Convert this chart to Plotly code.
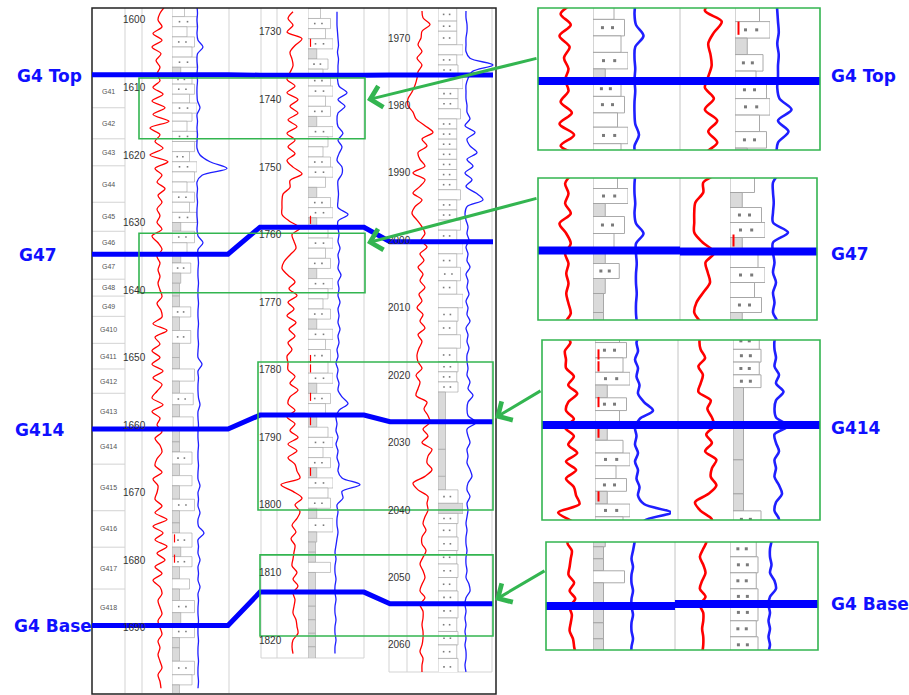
import plotly.graph_objects as go

# ============================ DATA ============================
MARKER_NAMES = ["G4 Top", "G47", "G414", "G4 Base"]

# Well 1 (depth 1598..1699 m, 1 m samples) GR in API, RT in ohm.m
W1_FIRST_DEPTH = 1598
W1_GR = [90, 80, 76, 84, 66, 84, 64, 82, 72, 80, 74, 80,
         66, 86, 64, 90, 66, 98, 60, 80, 70, 86,
         60, 96, 70, 84, 74, 90, 76, 84, 74, 80,
         74, 84, 64, 76, 84, 74, 80, 76, 80, 76,
         80, 84, 74, 82, 84, 66, 94, 70, 80, 64,
         80, 64, 86, 66, 84, 74, 64, 86, 64, 80,
         74, 84, 70, 80, 84, 74, 70, 84, 66, 76,
         74, 70, 84, 70, 94, 66, 86, 70, 94, 74,
         90, 70, 84, 66, 80, 84, 76, 80, 84, 76,
         80, 84, 76, 80, 76, 80, 84, 76, 80, 82]
W1_RT = [7, 7.5, 7, 7.5, 7, 8, 13, 7.5, 7, 7.5, 7, 7.5,
         7, 7, 7.5, 10, 7, 7.5, 7, 7.5, 7, 7,
         10, 20, 37, 12, 7, 7.5, 7, 7.5, 7, 7,
         7.5, 7, 8, 13, 8, 8, 8.5, 8, 8, 8.5,
         8, 8, 8.5, 8, 8, 8.5, 8, 8, 8.5, 8,
         8, 12, 8, 8.5, 8, 8, 8.5, 10, 8, 8,
         8.5, 8, 8, 8.5, 8, 8, 8.5, 8, 8, 10,
         8, 8.5, 8, 10, 8, 8.5, 14, 8, 8.5, 8,
         10, 8, 8.5, 8, 10, 8, 8.5, 8, 8, 8.5,
         8, 8, 8.5, 8, 8, 8.5, 8, 8, 8.5, 8]

# Well 2 (depth 1727..1822 m)
W2_FIRST_DEPTH = 1727
W2_GR = [82, 72, 82, 70, 100, 86, 76, 80, 82, 76,
         70, 86, 70, 92, 76, 92, 72, 90, 70, 86,
         72, 86, 70, 82, 100, 76, 76, 62, 60, 60,
         60, 75, 96, 80, 84, 88, 76, 64, 60, 72,
         86, 74, 90, 72, 84, 70, 88, 74, 86, 72,
         80, 70, 72, 72, 86, 76, 92, 76, 72, 86,
         70, 86, 76, 92, 72, 90, 72, 86, 90, 96,
         58, 82, 100, 86, 96, 90, 80, 88, 78, 86,
         84, 82, 80, 90, 82, 92, 82, 86, 84, 82,
         88, 90, 92, 82, 80, 82]
W2_RT = [7, 7, 7, 7.5, 8, 8.5, 7.5, 8.5, 8, 8,
         7.5, 9, 17, 8, 15, 8, 7, 8, 13, 8,
         12, 9, 7, 12, 12, 8, 8, 8.5, 8, 8,
         18, 8, 8, 9, 8, 10, 8, 9, 8, 11,
         8, 9, 8, 10, 8, 9, 8, 10, 8, 9,
         7, 8, 6, 8, 7, 9, 8, 12, 18, 9,
         6, 7, 6, 8, 6, 8, 7, 9, 8, 12,
         30, 12, 13, 7, 8, 7, 7, 8, 7, 6,
         5, 6, 5, 5, 6, 5, 5, 6, 5, 5,
         6, 5, 5, 6, 5, 5]

# Well 3 (depth 1966..2064 m)
W3_FIRST_DEPTH = 1966
W3_GR = [74, 76, 90, 74, 72, 66, 74, 64, 74, 66,
         64, 60, 54, 46, 46, 56, 62, 80, 96, 74,
         84, 66, 70, 80, 56, 80, 70, 56, 74, 60,
         54, 64, 74, 80, 72, 84, 70, 78, 66, 76,
         70, 80, 68, 74, 64, 76, 70, 80, 66, 74,
         68, 64, 66, 74, 62, 70, 66, 62, 84, 78,
         86, 90, 76, 86, 74, 94, 86, 84, 94, 80,
         56, 66, 86, 84, 86, 80, 76, 82, 74, 74,
         82, 76, 70, 76, 80, 74, 70, 80, 70, 76,
         76, 74, 76, 76, 74, 70, 76, 74, 74]
W3_RT = [6, 6, 7, 7, 6, 6, 6, 10, 33, 12,
         8, 6, 6, 6, 7, 7, 10, 5, 15, 7,
         10, 17, 7, 13, 5, 12, 6, 16, 23, 7,
         5, 6, 8, 7, 9, 6, 8, 7, 10, 6,
         8, 7, 9, 6, 8, 7, 10, 6, 8, 7,
         9, 7, 7, 8, 7, 10, 8, 13, 8, 7,
         8, 16, 7, 8, 10, 7, 8, 7, 10, 12,
         8, 7, 10, 7, 8, 7, 6, 7, 6, 6,
         7, 6, 6, 7, 6, 9, 10, 6, 5, 6,
         5, 6, 5, 6, 5, 6, 6, 5, 6]

# Marker (correlation surface) depths per well
W1_MARKERS = [1608.1, 1634.7, 1660.6, 1689.7]
W2_MARKERS = [1736.4, 1758.9, 1786.7, 1812.9]
W3_MARKERS = [1975.5, 2000.2, 2026.9, 2053.9]

# Sub-zones of well 1
ZONE_NAMES = ["G41", "G42", "G43", "G44", "G45", "G46", "G47", "G48", "G49",
              "G410", "G411", "G412", "G413", "G414", "G415", "G416", "G417", "G418"]
ZONE_TOPS = [1608.1, 1613.0, 1617.6, 1621.6, 1627.0, 1631.3, 1634.7, 1638.4, 1640.9,
             1643.9, 1647.9, 1651.7, 1655.3, 1660.6, 1665.8, 1672.7, 1678.1, 1684.3]
ZONE_BASE = 1689.7

W1_DEPTH_TICKS = [1600, 1610, 1620, 1630, 1640, 1650, 1660, 1670, 1680, 1690]
W2_DEPTH_TICKS = [1730, 1740, 1750, 1760, 1770, 1780, 1790, 1800, 1810, 1820]
W3_DEPTH_TICKS = [1970, 1980, 1990, 2000, 2010, 2020, 2030, 2040, 2050, 2060]

# Lithology beds: top depth, relative grain-size width, lithology (S sand, L silt, M mud)
W1_BED_TOPS = [1598, 1599.5, 1601, 1602.5, 1604, 1605.5, 1607, 1608.1, 1609.5, 1611,
               1612.3, 1613.8, 1615, 1616.5, 1618, 1619.5, 1621, 1622.5, 1624, 1625.5,
               1627, 1628.5, 1630, 1631.3, 1633, 1634.7, 1636, 1637.5, 1639, 1640.9,
               1642.5, 1644, 1646, 1647.9, 1650, 1651.7, 1653.5, 1655.3, 1657, 1658.8,
               1660.6, 1662.5, 1664, 1665.8, 1667.5, 1669, 1671, 1672.7, 1674.5, 1676,
               1678.1, 1679.5, 1681, 1682.8, 1684.3, 1686, 1687.8, 1689.7, 1691.5, 1693,
               1695, 1697, 1698.5]
W1_BED_WIDTHS = [0.5, 1.0, 0.6, 0.9, 0.8, 1.0, 0.35, 0.8, 0.9, 0.7,
                 1.0, 0.8, 0.6, 1.0, 0.9, 0.7, 1.0, 0.9, 0.6, 0.9,
                 0.7, 1.0, 0.35, 0.9, 0.6, 0.35, 0.75, 0.35, 0.3, 0.3,
                 0.75, 0.3, 0.75, 0.3, 0.3, 0.9, 0.3, 0.85, 0.3, 0.85,
                 0.3, 0.3, 0.8, 0.3, 0.8, 0.3, 0.9, 0.3, 0.3, 0.8,
                 0.35, 0.8, 0.3, 0.7, 0.3, 0.9, 0.35, 0.9, 0.3, 0.3,
                 0.9, 0.8, 0.3]
W1_BED_LITH = list("LSLSLSMSSL" "SLLSLSSLLS" "LSMSLMSMMM" "SMSMMLMSML"
                   "MMSMLMSMMS" "MSMLMSMSMM" "SLM")
W1_BED_BASE = 1700

W2_BED_TOPS = [1726.5, 1728, 1729.5, 1731, 1732.5, 1734, 1735.5, 1736.4, 1738, 1739.5,
               1741, 1742.5, 1744, 1745.5, 1747, 1748.5, 1750, 1751.5, 1753, 1754.5,
               1756, 1757.5, 1758.9, 1760.5, 1762, 1763.5, 1765, 1766.5, 1768, 1769.5,
               1771, 1772.5, 1774, 1775.5, 1777, 1778.8, 1780.5, 1782, 1783.5, 1785,
               1786.7, 1788.5, 1790, 1791.5, 1793, 1794.5, 1796, 1797.5, 1799, 1800.5,
               1802, 1804, 1805.5, 1807, 1808.5, 1810, 1812.9, 1815, 1817, 1819, 1821]
W2_BED_WIDTHS = [0.5, 0.9, 0.7, 1.0, 0.35, 0.8, 0.6, 0.9, 1.0, 0.7,
                 0.9, 0.35, 1.0, 0.8, 0.6, 0.9, 1.0, 0.7, 0.35, 0.9,
                 1.0, 0.35, 0.8, 1.0, 0.7, 0.9, 0.35, 1.0, 0.8, 0.6,
                 0.9, 0.35, 1.0, 0.7, 0.9, 0.8, 1.0, 0.35, 0.9, 0.7,
                 0.35, 0.8, 1.0, 0.6, 0.9, 0.35, 1.0, 0.8, 0.9, 0.35,
                 1.0, 0.35, 0.3, 0.3, 0.9, 0.3, 0.3, 0.3, 0.3, 0.3, 0.3]
W2_BED_LITH = list("LSLSM" "SLSSL" "SMSLL" "SSLMS" "SMLSL" "SMSLL" "SMSLS" "LSMSL"
                   "MLSLS" "MSLSM" "SMMML" "MMMMM" "M")
W2_BED_BASE = 1822.7

W3_BED_TOPS = [1965.5, 1967.5, 1969, 1971, 1972.5, 1974, 1975.5, 1977.5, 1979, 1980.5,
               1982, 1983.5, 1985, 1986.5, 1988, 1989.5, 1991, 1992.5, 1994, 1995.5,
               1997, 1998.5, 2000.2, 2002, 2004, 2006, 2008, 2010, 2012, 2014,
               2016, 2018, 2019.5, 2021, 2022.5, 2026.9, 2031, 2035, 2037, 2039,
               2040.5, 2042, 2044, 2046, 2048, 2050, 2052, 2053.9, 2056, 2058, 2060, 2062]
W3_BED_WIDTHS = [0.75, 0.75, 0.75, 1.0, 0.75, 0.8, 1.0, 0.8, 0.8, 0.9,
                 0.75, 0.75, 0.75, 0.75, 0.75, 0.75, 0.75, 0.9, 0.75, 0.75,
                 0.9, 0.75, 1.0, 0.75, 0.9, 0.75, 1.0, 0.8, 0.75, 0.9,
                 0.75, 0.8, 0.75, 0.8, 0.3, 0.3, 0.3, 0.3, 0.8, 1.0,
                 0.8, 0.75, 0.8, 0.75, 0.8, 0.75, 0.8, 0.8, 0.75, 0.8, 0.75, 0.8]
W3_BED_LITH = list("SSSLS" "SLSSL" "SSSSS" "SSLSS" "LSLSS" "SLSSL" "SSSSM" "MMMSM"
                   "SSSSS" "SSSSS" "SS")
W3_BED_BASE = 2064.5

# Core sample marks (red ticks) in the lithology column
W1_SAMPLES = [1676.2, 1679.2]
W2_SAMPLES = [1731.0, 1757.2, 1777.8, 1779.2, 1783.4, 1787.0, 1794.5]
W3_SAMPLES = []

# ============================ LAYOUT (pixels) ============================
W, H = 909, 695
BLUE = "#0000ff"
GREEN = "#33b550"
LABEL_FONT = dict(family="DejaVu Sans", size=17, color="#1010ff")

WELLS = {
    1: dict(top=8, bottom=693, d_ref=1600, y_ref=20, scale=6.75, gr=(140, 180),
            lith=(172, 197), rt=(190, 230), label_x=134.5),
    2: dict(top=8, bottom=658, d_ref=1730, y_ref=32, scale=6.756, gr=(272, 312),
            lith=(308, 333), rt=(330, 370), label_x=270),
    3: dict(top=8, bottom=672, d_ref=1970, y_ref=38, scale=6.744, gr=(405, 445),
            lith=(438, 463), rt=(460, 500), label_x=399),
}

DATA = {
    1: dict(first=W1_FIRST_DEPTH, gr=W1_GR, rt=W1_RT, markers=W1_MARKERS, ticks=W1_DEPTH_TICKS,
            tops=W1_BED_TOPS, widths=W1_BED_WIDTHS, lith=W1_BED_LITH, base=W1_BED_BASE,
            samples=W1_SAMPLES),
    2: dict(first=W2_FIRST_DEPTH, gr=W2_GR, rt=W2_RT, markers=W2_MARKERS, ticks=W2_DEPTH_TICKS,
            tops=W2_BED_TOPS, widths=W2_BED_WIDTHS, lith=W2_BED_LITH, base=W2_BED_BASE,
            samples=W2_SAMPLES),
    3: dict(first=W3_FIRST_DEPTH, gr=W3_GR, rt=W3_RT, markers=W3_MARKERS, ticks=W3_DEPTH_TICKS,
            tops=W3_BED_TOPS, widths=W3_BED_WIDTHS, lith=W3_BED_LITH, base=W3_BED_BASE,
            samples=W3_SAMPLES),
}

CORR_NODES = [(92, 1), (228, 1), (260, 2), (364, 2), (390, 3), (493, 3)]
LEFT_LABEL_X = [15, 17, 13, 12]

HIGHLIGHTS = [dict(x=(139, 365), well=1, depths=(1608.6, 1617.6)),
              dict(x=(139, 365), well=1, depths=(1631.6, 1640.4)),
              dict(x=(258, 493), well=2, depths=(1778.85, 1800.75)),
              dict(x=(260, 493), well=2, depths=(1807.4, 1819.4))]

INSETS = [
    dict(frame=(538, 8, 820, 150), marker=0, wells=(1, 2), left=(538, 680), divider=680,
         scale=11, band_y=(81, 81), label_y=76),
    dict(frame=(538, 178, 817, 320), marker=1, wells=(1, 2), left=(538, 675), divider=680,
         scale=10, band_y=(250.5, 251.5), label_y=254),
    dict(frame=(542, 340, 820, 520), marker=2, wells=(2, 3), left=(540, 678), divider=678,
         scale=8.5, band_y=(425, 425), label_y=428),
    dict(frame=(546, 542, 818, 650), marker=3, wells=(2, 3), left=(538, 675), divider=675,
         scale=8, band_y=(606, 604), label_y=604),
]

ARROWS = [((538, 58), (367, 100)), ((538, 198), (367, 243)),
          ((542, 390), (495, 418)), ((546, 570), (495, 600))]

# ============================ BUILD ============================
layout = {}
counter = {"x": 1, "y": 1}


def add_y(top, bottom, d_top, d_bot):
    counter["y"] += 1
    n = counter["y"]
    layout[f"yaxis{n}"] = dict(domain=[1 - bottom / H, 1 - top / H], range=[d_bot, d_top],
                               visible=False, fixedrange=True)
    return f"y{n}"


def add_x(x0, x1, rng, yid):
    counter["x"] += 1
    n = counter["x"]
    layout[f"xaxis{n}"] = dict(domain=[x0 / W, x1 / W], range=list(rng), visible=False,
                               fixedrange=True, anchor=yid)
    return f"x{n}"


def depth_px(wid, d):
    g = WELLS[wid]
    return g["y_ref"] + (d - g["d_ref"]) * g["scale"]


fig = go.Figure()
shapes = []
annotations = []

# canvas trace so that the pixel axes exist
fig.add_trace(go.Scatter(x=[0], y=[0], mode="markers", marker=dict(opacity=0),
                         hoverinfo="skip", showlegend=False))


def draw_well(wid, xl, xg, xr, yid, big):
    dd = DATA[wid]
    depths = [dd["first"] + i for i in range(len(dd["gr"]))]
    tops = dd["tops"]
    bots = tops[1:] + [dd["base"]]
    mids = [(a + b) / 2 for a, b in zip(tops, bots)]
    thick = [b - a for a, b in zip(tops, bots)]
    fills = ["#dadada" if c == "M" else "#ffffff" for c in dd["lith"]]
    fig.add_trace(go.Bar(orientation="h", y=mids, x=dd["widths"], base=0, width=thick,
                         marker=dict(color=fills, line=dict(color="#a0a0a0", width=0.9 if big else 0.6)),
                         xaxis=xl, yaxis=yid, hoverinfo="skip", showlegend=False))
    dx, dy = [], []
    for m, w, c in zip(mids, dd["widths"], dd["lith"]):
        if c == "S":
            dx += [0.3 * w, 0.62 * w]
            dy += [m, m]
    fig.add_trace(go.Scatter(x=dx, y=dy, mode="markers",
                             marker=dict(size=3 if big else 1.6, color="#7a7a7a", symbol="square"),
                             xaxis=xl, yaxis=yid, hoverinfo="skip", showlegend=False))
    sx, sy = [], []
    for s in dd["samples"]:
        sx += [0.1, 0.1, None]
        sy += [s, s + 1.2, None]
    if sx:
        fig.add_trace(go.Scatter(x=sx, y=sy, mode="lines", line=dict(color="#ff0000", width=2 if big else 1.2),
                                 xaxis=xl, yaxis=yid, hoverinfo="skip", showlegend=False))
    fig.add_trace(go.Scatter(x=dd["gr"], y=depths, mode="lines",
                             line=dict(color="#ff0000", width=2.6 if big else 1.3, shape="spline", smoothing=0.9),
                             xaxis=xg, yaxis=yid, hoverinfo="skip", showlegend=False))
    fig.add_trace(go.Scatter(x=dd["rt"], y=depths, mode="lines",
                             line=dict(color="#1f1fff", width=2.6 if big else 1.3, shape="spline", smoothing=0.9),
                             xaxis=xr, yaxis=yid, hoverinfo="skip", showlegend=False))


# ---------- main section ----------
main_y = {}
for wid, g in WELLS.items():
    d_top = g["d_ref"] + (g["top"] - g["y_ref"]) / g["scale"]
    d_bot = g["d_ref"] + (g["bottom"] - g["y_ref"]) / g["scale"]
    yid = add_y(g["top"], g["bottom"], d_top, d_bot)
    main_y[wid] = yid
    xl = add_x(*g["lith"], (0, 1), yid)
    xg = add_x(*g["gr"], (40, 120), yid)
    xr = add_x(*g["rt"], (0, 40), yid)
    draw_well(wid, xl, xg, xr, yid, False)
    for t in DATA[wid]["ticks"]:
        annotations.append(dict(x=g["label_x"], y=t, xref="x", yref=yid, text=str(t), showarrow=False,
                                font=dict(family="Liberation Sans Narrow, Liberation Sans, Arial", size=10,
                                          color="#333333"), xanchor="center", yanchor="middle"))

# grid lines of the well tracks
GRID = "#d3d3d3"
for x in (125, 142, 229):
    shapes.append(dict(type="line", x0=x, x1=x, y0=8, y1=693, xref="x", yref="y",
                       line=dict(color=GRID, width=1), layer="below"))
for x in (261, 277, 364):
    shapes.append(dict(type="line", x0=x, x1=x, y0=8, y1=658, xref="x", yref="y",
                       line=dict(color=GRID, width=1), layer="below"))
shapes.append(dict(type="line", x0=261, x1=364, y0=658, y1=658, xref="x", yref="y",
                   line=dict(color=GRID, width=1), layer="below"))
for x in (389, 407, 492):
    shapes.append(dict(type="line", x0=x, x1=x, y0=8, y1=672, xref="x", yref="y",
                       line=dict(color=GRID, width=1), layer="below"))
shapes.append(dict(type="line", x0=389, x1=492, y0=672, y1=672, xref="x", yref="y",
                   line=dict(color=GRID, width=1), layer="below"))

# zone column of well 1
for d in ZONE_TOPS + [ZONE_BASE]:
    shapes.append(dict(type="line", x0=92, x1=125, y0=d, y1=d, xref="x", yref=main_y[1],
                       line=dict(color=GRID, width=1), layer="below"))
zb = ZONE_TOPS[1:] + [ZONE_BASE]
for name, a, b in zip(ZONE_NAMES, ZONE_TOPS, zb):
    annotations.append(dict(x=108.5, y=(a + b) / 2, xref="x", yref=main_y[1], text=name, showarrow=False,
                            font=dict(family="Liberation Sans", size=7, color="#555555")))

# frame
shapes.append(dict(type="rect", x0=92, x1=496, y0=8, y1=694, xref="x", yref="y",
                   line=dict(color="#222222", width=1.5), layer="above"))

# correlation lines
for k in range(len(MARKER_NAMES)):
    pts = [(x, depth_px(w, DATA[w]["markers"][k])) for x, w in CORR_NODES]
    path = "M " + " L ".join(f"{x:.1f},{y:.1f}" for x, y in pts)
    shapes.append(dict(type="path", path=path, xref="x", yref="y",
                       line=dict(color=BLUE, width=5), layer="above"))
    annotations.append(dict(x=LEFT_LABEL_X[k], y=depth_px(1, DATA[1]["markers"][k]) + 1, xref="x", yref="y",
                            text=f"<b>{MARKER_NAMES[k]}</b>", showarrow=False, xanchor="left",
                            yanchor="middle", font=LABEL_FONT))

# highlight boxes
for hb in HIGHLIGHTS:
    shapes.append(dict(type="rect", x0=hb["x"][0], x1=hb["x"][1], y0=hb["depths"][0], y1=hb["depths"][1],
                       xref="x", yref=main_y[hb["well"]], line=dict(color=GREEN, width=1.6), layer="above"))

# ---------- insets ----------
for ins in INSETS:
    x0, y0, x1, y1 = ins["frame"]
    for side in (0, 1):
        wid = ins["wells"][side]
        dm = DATA[wid]["markers"][ins["marker"]]
        ym = ins["band_y"][side]
        s = ins["scale"]
        yid = add_y(y0, y1, dm - (ym - y0) / s, dm + (y1 - ym) / s)
        L = ins["left"][side]
        xl = add_x(L + 55, L + 90, (0, 1), yid)
        xg = add_x(L + 8, L + 53, (40, 120), yid)
        xr = add_x(L + 86, L + 131, (0, 30), yid)
        draw_well(wid, xl, xg, xr, yid, True)
        bx0, bx1 = (x0, ins["divider"]) if side == 0 else (ins["divider"], x1)
        shapes.append(dict(type="line", x0=bx0, x1=bx1, y0=dm, y1=dm, xref="x", yref=yid,
                           line=dict(color=BLUE, width=8), layer="above"))
    shapes.append(dict(type="line", x0=ins["divider"], x1=ins["divider"], y0=y0, y1=y1, xref="x", yref="y",
                       line=dict(color="#c4c4c4", width=1), layer="below"))
    shapes.append(dict(type="rect", x0=x0, x1=x1, y0=y0, y1=y1, xref="x", yref="y",
                       line=dict(color=GREEN, width=1.6), layer="above"))
    annotations.append(dict(x=829, y=ins["label_y"], xref="x", yref="y",
                            text=f"<b>{MARKER_NAMES[ins['marker']]}</b>", showarrow=False,
                            xanchor="left", yanchor="middle", font=LABEL_FONT))

# arrows
for (tx, ty), (hx, hy) in ARROWS:
    annotations.append(dict(x=hx, y=hy, ax=tx, ay=ty, xref="x", yref="y", axref="x", ayref="y",
                            text="", showarrow=True, arrowhead=4, arrowsize=1.4, arrowwidth=3,
                            arrowcolor=GREEN, standoff=0))

layout.update(
    width=W, height=H, autosize=False,
    margin=dict(l=0, r=0, t=0, b=0),
    paper_bgcolor="white", plot_bgcolor="rgba(0,0,0,0)",
    showlegend=False, hovermode=False, barmode="overlay",
    xaxis=dict(domain=[0, 1], range=[0, W], visible=False, fixedrange=True),
    yaxis=dict(domain=[0, 1], range=[H, 0], visible=False, fixedrange=True),
    shapes=shapes, annotations=annotations,
)
fig.update_layout(**layout)

fig.write_html("out.html", config={"displayModeBar": False},
               post_script="document.body.style.margin='0';document.body.style.overflow='hidden';")
